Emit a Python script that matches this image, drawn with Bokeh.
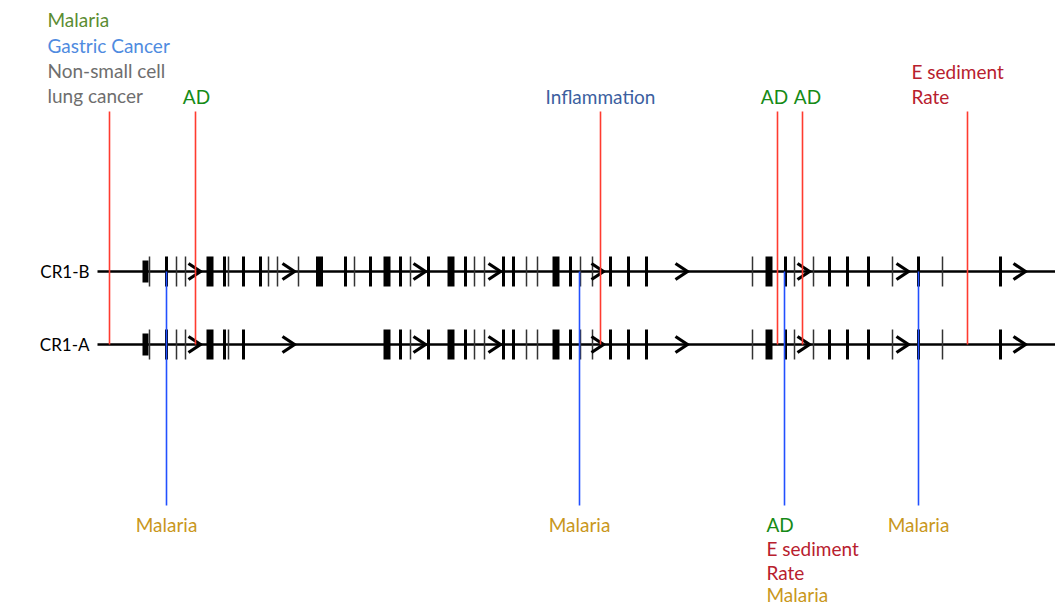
from bokeh.plotting import figure
from bokeh.models import Range1d
from bokeh.core.properties import value
from bokeh.embed import file_html
from bokeh.resources import INLINE

FONT = "Lato"

# ---- data (gene coordinates in drawing units) ----
track_names = ["CR1-B", "CR1-A"]
track_y = [271, 344]
backbone_start = 97
backbone_end = 1060

# shared exons (both isoforms)
thick_x = [209.5, 386.5, 450.5, 555.5, 768.5]
medium_x = [166, 224, 243, 400, 428, 465, 503, 513, 570, 610, 628, 646, 785, 829, 847, 868, 918, 1000]
thin_x = [149, 176, 185, 228, 410, 474, 484, 526, 537, 580, 592, 752, 794, 813, 892, 942]
first_block_x = [145]
# extra exons only in CR1-B
b_thick_x = [319]
b_medium_x = [260, 345, 370]
b_thin_x = [268, 277, 298, 354]
arrow_tips = [200, 294, 425, 500, 603, 687, 809, 908, 1025]

# annotated variants
top_line_x = [109, 195, 600, 777, 802, 967]
bottom_line_x = [166, 579, 784, 918]

top_labels = ["Malaria", "Gastric Cancer", "Non-small cell", "lung cancer",
              "AD", "Inflammation", "AD", "AD", "E sediment", "Rate"]
top_label_x = [47, 47, 47, 47, 196, 600, 774, 807, 911, 911]
top_label_y = [19, 45, 70, 95, 96, 96, 96, 96, 71, 96]
top_label_align = ["left", "left", "left", "left", "center", "center", "center", "center", "left", "left"]
top_label_color = ["#5b8c32", "#4f8be0", "#6e6e6e", "#6e6e6e", "#168a16", "#3c5fa0",
                   "#168a16", "#168a16", "#b8202e", "#b8202e"]

bottom_labels = ["Malaria", "Malaria", "AD", "E sediment", "Rate", "Malaria", "Malaria"]
bottom_label_x = [166, 579, 766, 766, 766, 766, 918]
bottom_label_y = [524, 524, 524, 548, 572, 594, 524]
bottom_label_align = ["center", "center", "left", "left", "left", "left", "center"]
bottom_label_color = ["#c9971c", "#c9971c", "#168a16", "#b8202e", "#b8202e", "#c9971c", "#c9971c"]

# ---- figure ----
p = figure(width=1055, height=606, output_backend="svg", toolbar_location=None,
           x_range=Range1d(0, 1055), y_range=Range1d(606, 0),
           min_border=0)
p.axis.visible = False
p.grid.visible = False
p.outline_line_color = None
p.background_fill_color = "white"
p.border_fill_color = "white"

H = 15  # half exon height
for name, ty in zip(track_names, track_y):
    p.segment(x0=[backbone_start], y0=[ty], x1=[backbone_end], y1=[ty],
              line_color="black", line_width=2.5)
    th = thick_x + (b_thick_x if name == "CR1-B" else [])
    md = medium_x + (b_medium_x if name == "CR1-B" else [])
    tn = thin_x + (b_thin_x if name == "CR1-B" else [])
    p.rect(x=th, y=[ty] * len(th), width=7, height=2 * H, fill_color="black", line_color=None)
    p.rect(x=first_block_x, y=[ty], width=6, height=22, fill_color="black", line_color=None)
    p.segment(x0=md, y0=[ty - H] * len(md), x1=md, y1=[ty + H] * len(md),
              line_color="black", line_width=3)
    p.segment(x0=tn, y0=[ty - H] * len(tn), x1=tn, y1=[ty + H] * len(tn),
              line_color="#333333", line_width=1.5)
    xs = [[t - 12, t, t - 12] for t in arrow_tips]
    ys = [[ty - 8, ty, ty + 8] for _ in arrow_tips]
    p.multi_line(xs=xs, ys=ys, line_color="black", line_width=3.2,
                 line_join="miter", line_cap="butt")
    p.text(x=[89], y=[ty], text=[name], text_font=value(FONT), text_font_size="17px",
           text_align="right", text_baseline="middle", text_color="black")

# variant lines
p.segment(x0=top_line_x, y0=[111] * len(top_line_x), x1=top_line_x, y1=[track_y[1]] * len(top_line_x),
          line_color="#ff3b2f", line_width=1.6)
p.segment(x0=bottom_line_x, y0=[track_y[0]] * len(bottom_line_x), x1=bottom_line_x,
          y1=[505] * len(bottom_line_x), line_color="#2250ff", line_width=1.6)

# labels
for lx, ly, lt, la, lc in zip(top_label_x + bottom_label_x, top_label_y + bottom_label_y,
                              top_labels + bottom_labels, top_label_align + bottom_label_align,
                              top_label_color + bottom_label_color):
    p.text(x=[lx], y=[ly], text=[lt], text_font=value(FONT), text_font_size="19px",
           text_align=la, text_baseline="middle", text_color=lc)

open("out.html", "w").write(file_html(p, INLINE))
